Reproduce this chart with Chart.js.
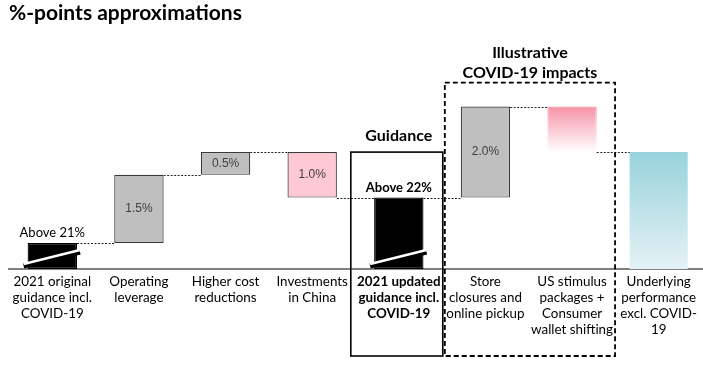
<!DOCTYPE html>
<html>
<head>
<meta charset="utf-8">
<script src="https://cdn.jsdelivr.net/npm/chart.js@4.4.1/dist/chart.umd.min.js"></script>
<style>
  html, body { margin: 0; padding: 0; background: #fff; }
  #wrap { width: 703px; height: 366px; }
</style>
</head>
<body>
<div id="wrap"><canvas id="bridge"></canvas></div>
<script>
// bridge values in %-points (the axis is broken, the floor stands for ~20.4%)
const axisFloor = 20.43;
const axisTop = 25.68;
const categories = [
    ['2021 original', 'guidance incl.', 'COVID-19'],
    ['Operating', 'leverage'],
    ['Higher cost', 'reductions'],
    ['Investments', 'in China'],
    ['2021 updated', 'guidance incl.', 'COVID-19'],
    ['Store', 'closures and', 'online pickup'],
    ['US stimulus', 'packages +', 'Consumer', 'wallet shifting'],
    ['Underlying', 'performance', 'excl. COVID-', '19']
];
const barStart = [axisFloor, 21, 22.5, 23, axisFloor, 22, 24, axisFloor];
const barEnd = [21, 22.5, 23, 22, 22, 24, 23, 23];
const valueLabels = ['Above 21%', '1.5%', '0.5%', '1.0%', 'Above 22%', '2.0%', '', ''];
const brokenBars = [0, 4];

// look of each bar
const barKind = ['total', 'up', 'up', 'down', 'total', 'up', 'fadeDown', 'fadeTotal'];

function barFill(ctx) {
    const i = ctx.dataIndex;
    const chart = ctx.chart;
    const kind = barKind[i];
    if (kind === 'total') return '#000000';
    if (kind === 'up') return '#bfbfbf';
    if (kind === 'down') return '#ffc9d4';
    const y = chart.scales.y;
    if (!chart.chartArea || !y) return '#ffffff';
    const top = y.getPixelForValue(Math.max(barStart[i], barEnd[i]));
    const bottom = y.getPixelForValue(Math.min(barStart[i], barEnd[i]));
    const g = chart.ctx.createLinearGradient(0, top, 0, bottom);
    if (kind === 'fadeDown') {
        g.addColorStop(0, '#f693a7');
        g.addColorStop(1, '#ffffff');
    } else {
        g.addColorStop(0, '#98d3dc');
        g.addColorStop(1, '#e4f2f5');
    }
    return g;
}

function barBorder(ctx) {
    const kind = barKind[ctx.dataIndex];
    return (kind === 'up' || kind === 'down') ? '#3a3a3a' : barFill(ctx);
}

function getBar(chart, i) {
    const meta = chart.getDatasetMeta(i === 7 ? 1 : 0);
    return meta.data[i];
}

// connectors, value labels, breaks and the two framing boxes
const bridgeExtras = {
    id: 'bridgeExtras',
    afterDatasetsDraw(chart) {
        const c = chart.ctx;
        const y = chart.scales.y;
        const x = chart.scales.x;

        // dotted connectors
        c.save();
        c.strokeStyle = '#222';
        c.lineWidth = 1;
        c.setLineDash([2, 1.5]);
        for (let i = 0; i < categories.length - 1; i++) {
            const a = getBar(chart, i), b = getBar(chart, i + 1);
            const yy = Math.round(y.getPixelForValue(barEnd[i])) + 0.5;
            c.beginPath();
            c.moveTo(a.x + a.width / 2, yy);
            c.lineTo(b.x - b.width / 2, yy);
            c.stroke();
        }
        c.restore();

        // axis break slashes
        brokenBars.forEach(i => {
            const b = getBar(chart, i);
            const x0 = b.x - b.width / 2 - 4, x1 = b.x + b.width / 2 + 3;
            const base = b.base;
            c.save();
            c.lineCap = 'butt';
            c.strokeStyle = '#000';
            c.lineWidth = 5;
            c.beginPath();
            c.moveTo(x0, base - 3);
            c.lineTo(x1, base - 17);
            c.stroke();
            c.strokeStyle = '#fff';
            c.lineWidth = 2.4;
            c.beginPath();
            c.moveTo(x0, base - 5);
            c.lineTo(x1, base - 19);
            c.stroke();
            c.restore();
        });

        // value labels
        c.save();
        c.textAlign = 'center';
        c.textBaseline = 'middle';
        valueLabels.forEach((txt, i) => {
            if (!txt) return;
            const b = getBar(chart, i);
            if (barKind[i] === 'total') {
                c.fillStyle = '#000';
                c.font = (i === 4 ? 'bold ' : '') + '13px Lato';
                c.fillText(txt, b.x, y.getPixelForValue(barEnd[i]) - 10);
            } else {
                c.fillStyle = '#404040';
                c.font = '12px "Liberation Sans"';
                c.fillText(txt, b.x, (y.getPixelForValue(barStart[i]) + y.getPixelForValue(barEnd[i])) / 2);
            }
        });
        c.restore();

        // guidance box
        const gx = x.getPixelForValue(4);
        const boxBottom = chart.height - 10;
        c.save();
        c.strokeStyle = '#000';
        c.lineWidth = 1.6;
        const gTop = y.getPixelForValue(23);
        c.strokeRect(gx - 48, gTop, 92, boxBottom - gTop);
        c.fillStyle = '#000';
        c.font = 'bold 16px Lato';
        c.textAlign = 'center';
        c.textBaseline = 'middle';
        c.fillText('Guidance', gx, gTop - 16);

        // covid box
        const left = gx + 46, right = x.getPixelForValue(6) + 43;
        const cTop = y.getPixelForValue(24) - 24;
        c.setLineDash([5, 3]);
        c.lineWidth = 1.8;
        c.strokeRect(left, cTop, right - left, boxBottom - cTop);
        c.setLineDash([]);
        const mid = (left + right) / 2;
        c.fillText('Illustrative', mid, cTop - 30);
        c.fillText('COVID-19 impacts', mid, cTop - 10);
        c.restore();
    }
};

const ctx = document.getElementById('bridge').getContext('2d');
new Chart(ctx, {
    type: 'bar',
    data: {
        labels: categories,
        datasets: [{
            data: categories.map((_, i) => i < 7 ? [barStart[i], barEnd[i]] : null),
            backgroundColor: barFill,
            borderColor: barBorder,
            borderWidth: 1.2,
            borderSkipped: false,
            barPercentage: 0.57,
            categoryPercentage: 1
        }, {
            data: categories.map((_, i) => i === 7 ? [barStart[i], barEnd[i]] : null),
            backgroundColor: barFill,
            borderWidth: 0,
            barPercentage: 0.67,
            categoryPercentage: 1
        }]
    },
    options: {
        responsive: true,
        maintainAspectRatio: false,
        animation: false,
        layout: { padding: { left: 9, right: 1, top: 0, bottom: 0 } },
        plugins: {
            legend: { display: false },
            tooltip: { enabled: false },
            title: {
                display: true,
                text: '%-points approximations',
                align: 'start',
                color: '#000',
                font: { family: 'Lato', size: 21, weight: 'bold' },
                padding: { top: 1, bottom: 4 }
            }
        },
        datasets: { bar: { grouped: false } },
        scales: {
            x: {
                grid: { display: false, drawTicks: false },
                border: { display: true, color: '#808080', width: 2 },
                ticks: {
                    color: '#000',
                    padding: 5,
                    maxRotation: 0,
                    autoSkip: false,
                    font: c => ({ family: 'Lato', size: 13.4, lineHeight: 1.19, weight: c.index === 4 ? 'bold' : 'normal' })
                },
                afterFit(scale) { scale.height = 97; }
            },
            y: {
                display: false,
                min: axisFloor,
                max: axisTop
            }
        }
    },
    plugins: [bridgeExtras]
});
</script>
</body>
</html>
